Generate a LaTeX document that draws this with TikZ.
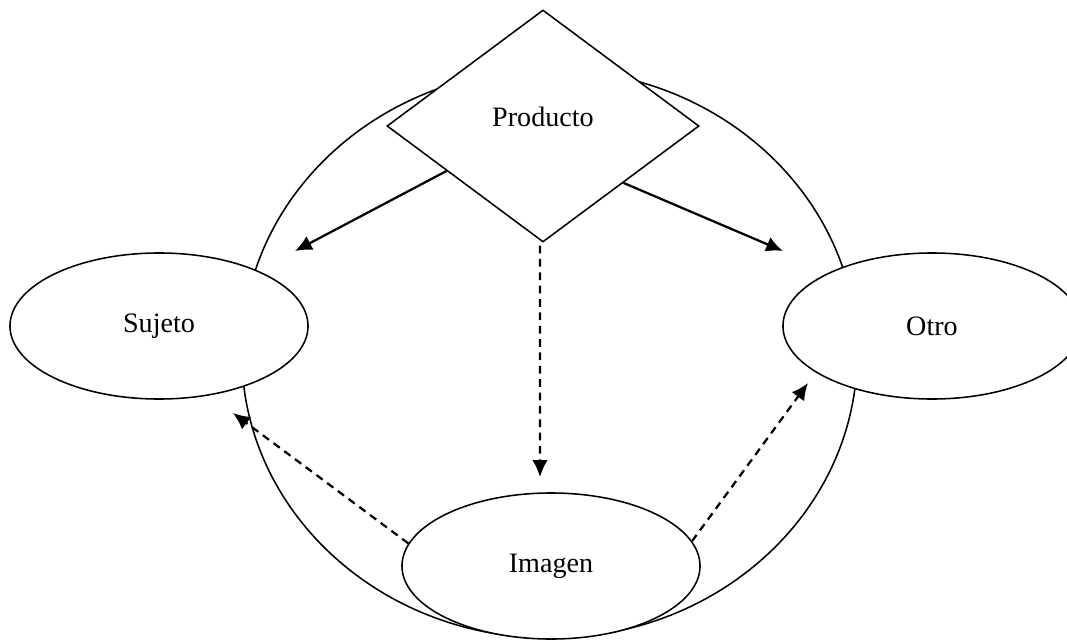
\documentclass[tikz,border=0pt]{standalone}
\usepackage{fontspec}
\setmainfont{Liberation Serif}
\usetikzlibrary{shapes.geometric,arrows.meta,calc}

\tikzset{
  concepto/.style={ellipse, draw, fill=white, line width=1.1pt, minimum width=7.45cm, minimum height=3.65cm, inner sep=0pt},
  rombo/.style={diamond, draw, fill=white, line width=1.1pt, minimum width=7.8cm, minimum height=5.8cm, inner sep=0pt},
  flecha/.style={line width=1.6pt, -{Latex[length=12pt,width=11pt]}},
  punteada/.style={flecha, dash pattern=on 5.5pt off 4pt}
}

\begin{document}
\begin{tikzpicture}[x=0.025cm,y=-0.025cm]
\useasboundingbox (0,0) rectangle (1067,639);
\fontsize{20}{24}\selectfont

% circulo de fondo
\draw[line width=1.1pt] (549.5,353.8) ellipse [x radius=7.69cm, y radius=7.105cm];

\node[concepto] (suj) at (159,326) {Sujeto};
\node[concepto] (otro) at (932,326) {Otro};
\node[concepto] (img) at (551,566) {Imagen};
\node[rombo, text depth=12.5pt] (prod) at (543,126) {Producto};

% puntas libres
\coordinate (t1) at (295,251);
\coordinate (t2) at (783,251);
\coordinate (t3) at (540,477);
\coordinate (t4) at (233,413);
\coordinate (t5) at (808,383);

\draw[flecha] ($(prod.west)!0.385!(prod.south)$) -- (t1);
\draw[flecha] ($(prod.east)!0.487!(prod.south)$) -- (t2);
\draw[punteada] ([xshift=-2.1pt,yshift=-2pt]prod.south) -- (t3);
\draw[punteada] (img.171) -- (t4);
\draw[punteada] (img.10) -- (t5);
\end{tikzpicture}
\end{document}
